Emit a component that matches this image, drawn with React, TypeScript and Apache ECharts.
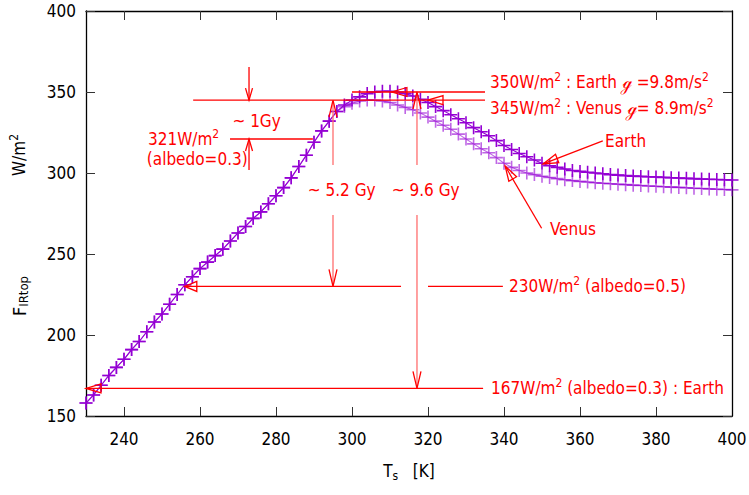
import React, { useEffect, useRef } from "react";
import * as echarts from "echarts";

// Surface temperature [K]
const temps = [
  230, 232, 234, 236, 238, 240, 242, 244, 246, 248,
  250, 252, 254, 256, 258, 260, 262, 264, 266, 268,
  270, 272, 274, 276, 278, 280, 282, 284, 286, 288,
  290, 292, 294, 296, 298, 300, 302, 304, 306, 308,
  310, 312, 314, 316, 318, 320, 322, 324, 326, 328,
  330, 332, 334, 336, 338, 340, 342, 344, 346, 348,
  350, 352, 354, 356, 358, 360, 362, 364, 366, 368,
  370, 372, 374, 376, 378, 380, 382, 384, 386, 388,
  390, 392, 394, 396, 398, 400,
];

// F_IRtop [W/m2], Earth (g = 9.8 m/s2)
const earthFlux = [
  158, 163, 169, 175, 180, 185, 191, 196, 202, 208,
  213, 219, 225, 231, 236, 241, 245, 249, 253, 258,
  263, 267, 272, 276, 281, 286, 291, 297, 304, 311,
  319, 326, 332, 338, 342, 345, 347, 349, 350, 350.5,
  350.5, 350, 349, 347.5, 345.5, 343.5, 341, 338.5, 336, 333.5,
  331, 328, 325.5, 323, 320, 317, 314.5, 312, 310, 308,
  306, 304.5, 303.5, 302.5, 301.5, 301, 300.5, 300, 299.5, 299,
  298.7, 298.4, 298.1, 297.9, 297.7, 297.5, 297.3, 297.1, 296.9, 296.7,
  296.5, 296.3, 296.1, 296, 295.8, 295.7,
];

// F_IRtop [W/m2], Venus (g = 8.9 m/s2)
const venusFlux = [
  158, 163, 169, 175, 180, 185, 191, 196, 202, 208,
  213, 219, 225, 231, 236, 241, 245, 249, 253, 258,
  263, 267, 272, 276, 281, 286, 291, 297, 304, 311,
  319, 326, 332, 338, 341, 343, 344.5, 345, 345, 344.5,
  343.5, 342, 340.5, 339, 337, 334.5, 332, 329.5, 327, 324,
  321, 318, 315, 312.5, 309.5, 306, 303.5, 301.5, 300, 299,
  298, 297.2, 296.5, 295.8, 295.3, 294.8, 294.4, 294, 293.7, 293.4,
  293.1, 292.8, 292.5, 292.3, 292, 291.8, 291.5, 291.3, 291.1, 290.9,
  290.6, 290.4, 290.2, 290, 289.8, 289.6,
];

const xTickLabels = [240, 260, 280, 300, 320, 340, 360, 380, 400];
const xTickMarks = [240, 260, 280, 300, 320, 340, 360, 380];

const FONT = "'DejaVu Sans Condensed', 'Liberation Sans Narrow', 'DejaVu Sans', sans-serif";
const RED = "#ff0000";
const PINK = "#ff6e6e";
const EARTH_COLOR = "#9400d3";
const VENUS_COLOR = "rgba(148,0,211,0.6)";

const richRed = {
  n: { fontSize: 17, fontFamily: FONT, fill: RED, lineHeight: 22, verticalAlign: "middle" },
  p: { fontSize: 12, fontFamily: FONT, fill: RED, lineHeight: 12, verticalAlign: "top" },
  g: { fontSize: 17, fontFamily: FONT, fill: RED, lineHeight: 22, verticalAlign: "middle" },
};

export default function App() {
  const ref = useRef<HTMLDivElement>(null);

  useEffect(() => {
    document.body.style.margin = "0";
    const chart = echarts.init(ref.current!, null, { renderer: "svg" });
    const plus = "path://M0,5L10,5M5,0L5,10";
    const mkSeries = (name: string, vals: number[], color: string, z: number) => ({
      type: "line",
      name,
      data: temps.map((t, i) => [t, vals[i]]),
      symbol: plus,
      symbolSize: 13,
      showSymbol: true,
      itemStyle: { color: "rgba(0,0,0,0)", borderColor: color, borderWidth: 1.6 },
      lineStyle: { color, width: 1.1 },
      silent: true,
      clip: false,
      z,
    });

    const axisLine = { show: true, lineStyle: { color: "#000", width: 1.3 } };
    const tick = { show: true, inside: true, length: 9, lineStyle: { color: "#333", width: 1 } };

    chart.setOption({
      animation: false,
      grid: { left: 86, right: 17, top: 11, bottom: 79, containLabel: false, outerBoundsMode: "none" },
      xAxis: [
        {
          type: "value",
          min: 230,
          max: 400,
          position: "bottom",
          axisLine,
          axisTick: { ...tick, customValues: xTickMarks },
          axisLabel: { customValues: xTickLabels, margin: 14, fontSize: 17, color: "#000", fontFamily: FONT },
          splitLine: { show: false },
          name: "{t|T}{s|s}{t|   [K]}",
          nameLocation: "middle",
          nameGap: 44,
          nameTextStyle: {
            rich: {
              t: { fontSize: 17, fontFamily: FONT, color: "#000", lineHeight: 22, verticalAlign: "middle" },
              s: { fontSize: 12, fontFamily: FONT, color: "#000", lineHeight: 10, verticalAlign: "bottom" },
            },
          },
        },
        {
          type: "value",
          min: 230,
          max: 400,
          position: "top",
          axisLine,
          axisTick: { ...tick, customValues: xTickMarks },
          axisLabel: { show: false },
          splitLine: { show: false },
        },
      ],
      yAxis: [
        {
          type: "value",
          min: 150,
          max: 400,
          interval: 50,
          position: "left",
          axisLine,
          axisTick: tick,
          axisLabel: { margin: 10, fontSize: 17, color: "#000", fontFamily: FONT },
          splitLine: { show: false },
        },
        {
          type: "value",
          min: 150,
          max: 400,
          interval: 50,
          position: "right",
          axisLine,
          axisTick: tick,
          axisLabel: { show: false },
          splitLine: { show: false },
        },
      ],
      series: [
        mkSeries("Venus", venusFlux, VENUS_COLOR, 2),
        mkSeries("Earth", earthFlux, EARTH_COLOR, 3),
      ],
    });

    const P = (t: number, v: number) =>
      chart.convertToPixel({ xAxisIndex: 0, yAxisIndex: 0 }, [t, v]) as number[];

    const els: any[] = [];
    const seg = (a: number[], b: number[], color = RED, w = 1.3) => {
      const p = P(a[0], a[1]);
      const q = P(b[0], b[1]);
      els.push({
        type: "line",
        z: 10,
        silent: true,
        shape: { x1: p[0], y1: p[1], x2: q[0], y2: q[1] },
        style: { stroke: color, lineWidth: w },
      });
    };
    const head = (from: number[], tip: number[], closed: boolean, color = RED, L = 15, W = 4.5) => {
      const p = P(from[0], from[1]);
      const q = P(tip[0], tip[1]);
      const dx = q[0] - p[0];
      const dy = q[1] - p[1];
      const len = Math.hypot(dx, dy) || 1;
      const ux = dx / len;
      const uy = dy / len;
      const nx = -uy;
      const ny = ux;
      const bx = q[0] - ux * L;
      const by = q[1] - uy * L;
      const pts = [
        [bx + nx * W, by + ny * W],
        [q[0], q[1]],
        [bx - nx * W, by - ny * W],
      ];
      els.push({
        type: closed ? "polygon" : "polyline",
        z: 11,
        silent: true,
        shape: { points: pts },
        style: { stroke: color, lineWidth: 1.3, fill: closed ? "rgba(0,0,0,0)" : null },
      });
    };
    const arrow = (from: number[], tip: number[], closed: boolean, color = RED, headColor = RED, L = 15, W = 4.5) => {
      seg(from, tip, color);
      head(from, tip, closed, headColor, L, W);
    };
    const txt = (t: number, v: number, text: string, align = "left") => {
      const [x, y] = P(t, v);
      els.push({
        type: "text",
        x,
        y,
        z: 12,
        silent: true,
        style: {
          text,
          fill: RED,
          fontSize: 17,
          fontFamily: FONT,
          align,
          verticalAlign: "middle",
          textAlign: align,
          textVerticalAlign: "middle",
          rich: richRed,
        },
      });
    };

    // level lines 345 / 350 with arrows from the labels
    seg([258.2, 345], [335, 345]);
    head([335, 345], [320, 345], true);
    seg([300, 350], [335, 350]);
    head([335, 350], [310.5, 350], true);

    // ~1 Gy
    arrow([272.9, 365.4], [272.9, 345], false, RED, RED, 12, 3.5);
    arrow([272.9, 301.9], [272.9, 321], false, RED, RED, 12, 3.5);
    seg([267.9, 321], [289.7, 321]);

    // ~5.2 Gy
    arrow([295, 305], [295, 345], false, PINK, RED, 17, 4);
    arrow([295, 274], [295, 230], false, PINK, RED, 17, 4);
    // ~9.6 Gy
    arrow([317.1, 305], [317.1, 350], false, PINK, RED, 17, 4);
    arrow([317.1, 274], [317.1, 167], false, PINK, RED, 17, 4);

    // 230 line
    seg([256, 230], [312.9, 230]);
    head([270, 230], [256, 230], true, RED, 12, 5);
    seg([320, 230], [339.7, 230]);
    // 167 line
    seg([230, 167], [334.5, 167]);
    head([245, 167], [230, 167], true, RED, 15, 4.5);

    // Earth / Venus pointers
    arrow([366, 319.8], [350.3, 305.6], true);
    arrow([349.9, 265.9], [340.3, 304.3], true);

    // texts
    txt(336.3, 356.2, "{n|350W/m}{p|2}{n| : Earth }{g|ℊ}{n| =9.8m/s}{p|2}");
    txt(336.3, 340.3, "{n|345W/m}{p|2}{n| : Venus }{g|ℊ}{n|= 8.9m/s}{p|2}");
    txt(366.6, 320, "{n|Earth}");
    txt(352.1, 265.4, "{n|Venus}");
    txt(274.9, 332, "{n|~ 1Gy}", "center");
    txt(246.3, 321, "{n|321W/m}{p|2}");
    txt(246, 308.5, "{n|(albedo=0.3)}");
    txt(297.3, 289.5, "{n|~ 5.2 Gy}", "center");
    txt(319.4, 289.5, "{n|~ 9.6 Gy}", "center");
    txt(341.3, 230, "{n|230W/m}{p|2}{n| (albedo=0.5)}");
    txt(336.6, 167, "{n|167W/m}{p|2}{n| (albedo=0.3) : Earth}");

    // y axis titles (rotated)
    els.push({
      type: "text",
      x: 19,
      y: 155,
      rotation: Math.PI / 2,
      silent: true,
      z: 12,
      style: {
        text: "{n|W/m}{p|2}",
        fill: "#000",
        align: "center",
        verticalAlign: "middle",
        textAlign: "center",
        textVerticalAlign: "middle",
        rich: {
          n: { fontSize: 17, fontFamily: FONT, fill: "#000", lineHeight: 22, verticalAlign: "middle" },
          p: { fontSize: 12, fontFamily: FONT, fill: "#000", lineHeight: 12, verticalAlign: "top" },
        },
      },
    });
    els.push({
      type: "text",
      x: 19,
      y: 296,
      rotation: Math.PI / 2,
      silent: true,
      z: 12,
      style: {
        text: "{f|F}{s|IRtop}",
        fill: "#000",
        align: "center",
        verticalAlign: "middle",
        textAlign: "center",
        textVerticalAlign: "middle",
        rich: {
          f: { fontSize: 18, fontFamily: FONT, fill: "#000", lineHeight: 22, verticalAlign: "middle" },
          s: { fontSize: 13, fontFamily: FONT, fill: "#000", lineHeight: 10, verticalAlign: "bottom" },
        },
      },
    });

    chart.setOption({ graphic: { elements: els } });

    return () => chart.dispose();
  }, []);

  return <div ref={ref} style={{ width: 749, height: 495 }} />;
}
